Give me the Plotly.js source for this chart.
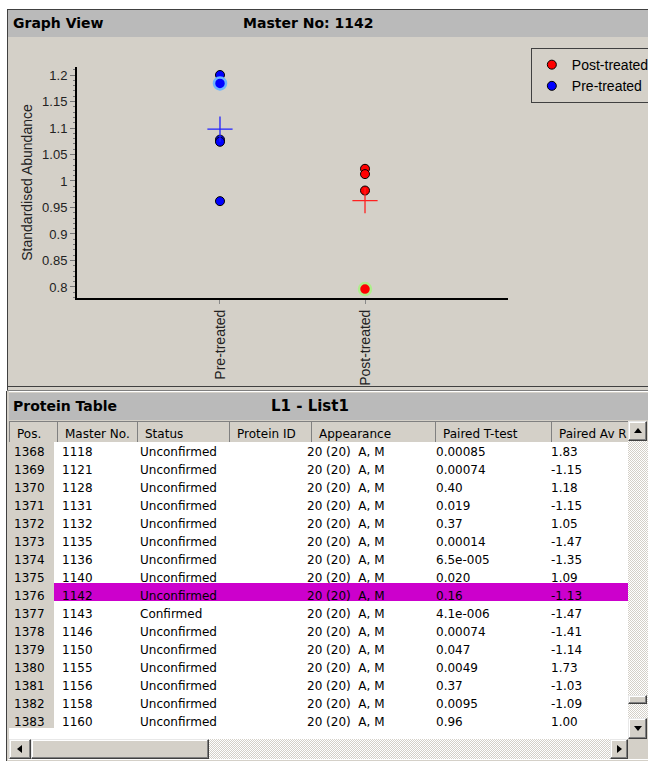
<!DOCTYPE html>
<html>
<head>
<meta charset="utf-8">
<script src="https://cdn.plot.ly/plotly-3.0.1.min.js"></script>
<style>
html,body{margin:0;padding:0;background:#fff;width:648px;height:761px;overflow:hidden;}
body{position:relative;font-family:"DejaVu Sans",sans-serif;}
.abs{position:absolute;box-sizing:border-box;}
.bar{background:#bababa;color:#000;font-weight:bold;font-size:14px;line-height:27px;white-space:nowrap;}
.btn{background:#d4d0c8;border:1px solid;border-color:#e8e8e8 #404040 #404040 #e8e8e8;box-shadow:inset -1px -1px #808080, inset 1px 1px #fff;}
.chk{background-color:#fff;background-image:repeating-conic-gradient(#d4d0c8 0 25%, #ffffff 0 50%);background-size:2px 2px;}
.tri{position:absolute;width:0;height:0;}
</style>
</head>
<body>
<div class="abs" style="left:7px;top:9px;width:641px;height:752px;background:#d4d0c8;border-left:1px solid #404040;border-top:1px solid #404040;"></div>
<div class="abs bar" style="left:8px;top:10px;width:640px;height:27px;">
  <span class="abs" style="left:5px;top:0;">Graph View</span>
  <span class="abs" style="left:235px;top:0;">Master No: 1142</span>
</div>
<div id="chart" class="abs" style="left:8px;top:38px;width:640px;height:348px;"></div>
<div class="abs" style="left:7px;top:386px;width:641px;height:1px;background:#404040;"></div>
<div class="abs" style="left:7px;top:390px;width:641px;height:1px;background:#808080;"></div>
<div class="abs" style="left:8px;top:391px;width:640px;height:1px;background:#fff;"></div>
<div class="abs bar" style="left:8px;top:393px;width:640px;height:27px;">
  <span class="abs" style="left:5px;top:0;">Protein Table</span>
  <span class="abs" style="left:263px;top:0;font-size:15px;">L1 - List1</span>
</div>
<div class="abs" style="left:9px;top:442px;width:619px;height:297px;background:#fff;"></div>
<div id="tbody" class="abs" style="left:0;top:423px;width:648px;height:316px;overflow:hidden;"></div>
<div id="thead" class="abs" style="left:0;top:421px;width:648px;height:21px;overflow:hidden;"></div>
<!-- frame left border over table -->
<div class="abs" style="left:6px;top:391px;width:3px;height:370px;background:#d4d0c8;border-left:1px solid #404040;"></div>
<div class="abs" style="left:0;top:391px;width:6px;height:370px;background:#fff;"></div>
<!-- vertical scrollbar -->
<div class="abs chk" style="left:628px;top:441px;width:20px;height:277px;"></div>
<div class="abs btn" style="left:628px;top:421px;width:19px;height:20px;"><div class="tri" style="left:5px;top:6px;border-left:4px solid transparent;border-right:4px solid transparent;border-bottom:5px solid #000;"></div></div>
<div class="abs btn" style="left:628px;top:695px;width:19px;height:9px;"></div>
<div class="abs btn" style="left:628px;top:718px;width:19px;height:21px;"><div class="tri" style="left:5px;top:7px;border-left:4px solid transparent;border-right:4px solid transparent;border-top:5px solid #000;"></div></div>
<!-- horizontal scrollbar -->
<div class="abs chk" style="left:9px;top:739px;width:619px;height:20px;"></div>
<div class="abs btn" style="left:9px;top:739px;width:22px;height:20px;"><div class="tri" style="left:7px;top:5px;border-top:4px solid transparent;border-bottom:4px solid transparent;border-right:5px solid #000;"></div></div>
<div class="abs btn" style="left:31px;top:739px;width:178px;height:20px;"></div>
<div class="abs btn" style="left:610px;top:739px;width:18px;height:20px;"><div class="tri" style="left:6px;top:5px;border-top:4px solid transparent;border-bottom:4px solid transparent;border-left:5px solid #000;"></div></div>
<div class="abs" style="left:628px;top:739px;width:20px;height:20px;background:#d4d0c8;"></div>
<div class="abs" style="left:8px;top:759px;width:640px;height:2px;background:#d4d0c8;border-top:1px solid #fff;"></div>

<script>
// ---------- chart data ----------
const groups = ['Pre-treated', 'Post-treated'];
const preValues = [1.200, 1.078, 1.074, 0.962];
const postValues = [1.023, 1.013, 0.982];
const preSelected = [1.184];
const postSelected = [0.796];
const preMean = [1.098];
const postMean = [0.963];
const yTickVals = [0.8, 0.85, 0.9, 0.95, 1.0, 1.05, 1.1, 1.15, 1.2];
const yTickText = ['0.8', '0.85', '0.9', '0.95', '1', '1.05', '1.1', '1.15', '1.2'];

// ---------- table data ----------
const columnHeaders = ['Pos.', 'Master\u00a0No.', 'Status', 'Protein\u00a0ID', 'Appearance', 'Paired\u00a0T-test', 'Paired\u00a0Av\u00a0R'];
const posNo = ['1368','1369','1370','1371','1372','1373','1374','1375','1376','1377','1378','1379','1380','1381','1382','1383'];
const masterNo = ['1118','1121','1128','1131','1132','1135','1136','1140','1142','1143','1146','1150','1155','1156','1158','1160'];
const status = ['Unconfirmed','Unconfirmed','Unconfirmed','Unconfirmed','Unconfirmed','Unconfirmed','Unconfirmed','Unconfirmed','Unconfirmed','Confirmed','Unconfirmed','Unconfirmed','Unconfirmed','Unconfirmed','Unconfirmed','Unconfirmed'];
const proteinId = ['','','','','','','','','','','','','','','',''];
const appearance = ['20 (20)  A, M','20 (20)  A, M','20 (20)  A, M','20 (20)  A, M','20 (20)  A, M','20 (20)  A, M','20 (20)  A, M','20 (20)  A, M','20 (20)  A, M','20 (20)  A, M','20 (20)  A, M','20 (20)  A, M','20 (20)  A, M','20 (20)  A, M','20 (20)  A, M','20 (20)  A, M'];
const pairedTTest = ['0.00085','0.00074','0.40','0.019','0.37','0.00014','6.5e-005','0.020','0.16','4.1e-006','0.00074','0.047','0.0049','0.37','0.0095','0.96'];
const pairedAvRatio = ['1.83','-1.15','1.18','-1.15','1.05','-1.47','-1.35','1.09','-1.13','-1.47','-1.41','-1.14','1.73','-1.03','-1.09','1.00'];
const selectedMaster = '1142';

// ---------- chart ----------
const fontFam = '"Liberation Sans", Arial, sans-serif';
const rep = (v, n) => Array(n).fill(v);
const chartTraces = [
  {type:'scatter', mode:'markers', name:'Post-treated', x:rep(groups[1], postValues.length), y:postValues,
   marker:{color:'#ff0000', size:9, line:{color:'#000', width:1}}, hoverinfo:'y'},
  {type:'scatter', mode:'markers', name:'Pre-treated', x:rep(groups[0], preValues.length), y:preValues,
   marker:{color:'#0000ff', size:9, line:{color:'#000', width:1}}, hoverinfo:'y'},
  {type:'scatter', mode:'markers', showlegend:false, x:rep(groups[0], preSelected.length), y:preSelected,
   marker:{color:'#0000ff', size:12, line:{color:'#6cb4ff', width:2.5}}, hoverinfo:'y'},
  {type:'scatter', mode:'markers', showlegend:false, x:rep(groups[1], postSelected.length), y:postSelected,
   marker:{color:'#ff0000', size:12, line:{color:'#aeee8c', width:2.5}}, hoverinfo:'y'},
  {type:'scatter', mode:'markers', showlegend:false, x:rep(groups[0], preMean.length), y:preMean,
   marker:{symbol:'cross-thin', size:18, line:{color:'#2020ff', width:1.3}}, hoverinfo:'y'},
  {type:'scatter', mode:'markers', showlegend:false, x:rep(groups[1], postMean.length), y:postMean,
   marker:{symbol:'cross-thin', size:18, line:{color:'#ff2020', width:1.3}}, hoverinfo:'y'}
];
const chartLayout = {
  width:640, height:348,
  margin:{l:69, r:140, t:29, b:88, autoexpand:false},
  paper_bgcolor:'#d4d0c8', plot_bgcolor:'#d4d0c8',
  font:{family:fontFam, size:14, color:'#222'},
  showlegend:true,
  legend:{x:1.053, y:1.082, xanchor:'left', yanchor:'top', bgcolor:'rgba(0,0,0,0)', bordercolor:'#404040', borderwidth:1,
          font:{family:fontFam, size:14, color:'#000'}, itemwidth:30, traceorder:'normal'},
  xaxis:{type:'category', categoryorder:'array', categoryarray:groups, range:[-0.986, 1.986],
         showline:true, linecolor:'#000', linewidth:2, ticks:'outside', ticklen:4, tickcolor:'#888',
         tickangle:-90, showgrid:false, zeroline:false, tickfont:{family:fontFam, size:14, color:'#222'}, fixedrange:true},
  yaxis:{range:[0.7792, 1.2151], tickmode:'array', tickvals:yTickVals, ticktext:yTickText,
         showline:true, linecolor:'#000', linewidth:2, ticks:'outside', ticklen:5, tickcolor:'#777',
         minor:{tickmode:'linear', tick0:0.8, dtick:0.01, ticks:'outside', ticklen:2, tickcolor:'#777', showgrid:false},
         showgrid:false, zeroline:false, tickfont:{family:fontFam, size:13, color:'#222'},
         title:{text:'Standardised Abundance', font:{family:fontFam, size:14, color:'#222'}, standoff:6}, fixedrange:true}
};
Plotly.newPlot('chart', chartTraces, chartLayout, {displayModeBar:false, staticPlot:true});

// ---------- table ----------
const nbsp = s => s.replace(/ /g, '\u00a0');
const bodyColumns = [posNo, masterNo, status, proteinId, appearance.map(nbsp), pairedTTest, pairedAvRatio];
const selIdx = masterNo.indexOf(selectedMaster);
const fillCols = bodyColumns.map((col, ci) => col.map((v, ri) => ci === 0 ? '#d4d0c8' : (ri === selIdx ? '#cc00cc' : '#ffffff')));
const tblFont = '"DejaVu Sans", sans-serif';
const W = 648;
// header row
Plotly.newPlot('thead', [
  {type:'table', domain:{x:[9/W, 628/W], y:[0, 1]},
   columnwidth:[48, 80, 92, 82, 124, 116, 77],
   header:{values:columnHeaders.map(h => [h]), align:'left', height:21,
           fill:{color:'#d4d0c8'}, line:{color:'#808080', width:1},
           font:{family:tblFont, size:12, color:'#000'}},
   cells:{values:[]}}
], {width:W, height:21, margin:{l:0, r:0, t:0, b:0}, paper_bgcolor:'rgba(0,0,0,0)'}, {displayModeBar:false, staticPlot:true});
// body rows (its empty header strip sits under the header row)
Plotly.newPlot('tbody', [
  {type:'table', domain:{x:[6/W, 628/W], y:[0, 1]},
   columnwidth:[48, 78, 97, 70, 129, 115, 85],
   header:{values:[]},
   cells:{values:bodyColumns, align:'left', height:18,
          fill:{color:fillCols}, line:{color:fillCols, width:1},
          font:{family:tblFont, size:12, color:'#000'}}}
], {width:W, height:316, margin:{l:0, r:0, t:0, b:0}, paper_bgcolor:'rgba(0,0,0,0)'}, {displayModeBar:false, staticPlot:true});
</script>
</body>
</html>
